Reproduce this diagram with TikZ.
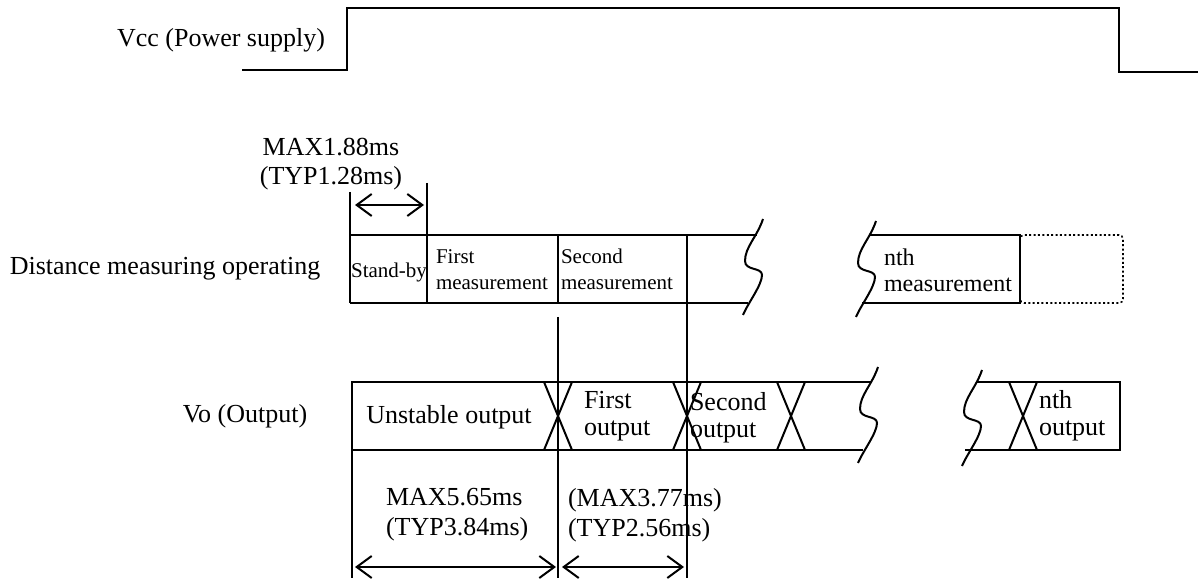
\documentclass[tikz,border=0pt]{standalone}
\usepackage{fontspec}
\setmainfont{Liberation Serif}
\usetikzlibrary{arrows.meta}

% break mark of a cut time axis
\newcommand{\cutmark}[2]{\draw (#1,#2) .. controls +(-6,18) and +(0,-14) .. ++(-18,42) .. controls +(0,10) and +(0,-8) .. ++(17,14) .. controls +(0,10) and +(5,-12) .. ++(-19,40);}

\begin{document}
\begin{tikzpicture}[x=0.5pt, y=-0.5pt, line width=1pt,
	txt/.style={inner sep=0pt, align=left, font=\fontsize{13}{13.5}\selectfont},
	dimtxt/.style={inner sep=0pt, align=left, font=\fontsize{13}{15}\selectfont},
	small/.style={inner sep=0pt, align=left, font=\fontsize{10.5}{13}\selectfont},
	nthsmall/.style={inner sep=0pt, align=left, font=\fontsize{12}{13}\selectfont},
	dimarrow/.style={{Straight Barb[length=7.5pt,width=11pt]}-{Straight Barb[length=7.5pt,width=11pt]}}]
	\useasboundingbox (0,0) rectangle (1198,582);
	% signal names
	\node [txt] (vcc) at (221,40) {Vcc (Power supply)};
	\node [txt] (dist) at (165,269) {Distance measuring operating};
	\node [txt] (vo) at (245,416) {Vo (Output)};
	% Vcc
	\draw (242,70) -- (347,70) -- (347,8) -- (1119,8) -- (1119,72) -- (1198,72);
	% stand-by time
	\node [txt] (max1) at (331,147) {MAX1.88ms};
	\node [txt] (typ1) at (331,178) {(TYP1.28ms)};
	\coordinate (sbL) at (355,205);
	\coordinate (sbR) at (424,205);
	\draw [dimarrow] (sbL) -- (sbR);
	% measuring row
	\draw (350,192) -- (350,303);
	\draw (427,183) -- (427,303);
	\draw (350,235) -- (757,235);
	\draw (350,303) -- (748,303);
	\draw (558,235) -- (558,303);
	\draw (687,235) -- (687,578);
	\draw (558,317) -- (558,578);
	\cutmark{763}{219}
	\cutmark{876}{221}
	\draw (870,235) -- (1020,235) -- (1020,303) -- (862,303);
	\draw [line width=0.8pt, dash pattern=on 1pt off 1.2pt, rounded corners=2pt] (1020,235) rectangle (1123,303);
	\node [small] (standby) at (389,272) {Stand-by};
	\node [small, anchor=west] (firstm) at (435,270) {First\\measurement};
	\node [small, anchor=west] (secondm) at (560,269) {Second\\measurement};
	\node [nthsmall, anchor=west] (nthm) at (883,270) {nth\\measurement};
	% output row
	\draw (872,382) -- (352,382) -- (352,450) -- (863,450);
	\draw (977,382) -- (1120,382) -- (1120,450) -- (965,450);
	\foreach \c in {558,687,791,1023}
		\draw (\c-14,382) -- (\c+14,450) (\c+14,382) -- (\c-14,450);
	\cutmark{878}{367}
	\cutmark{982}{370}
	\node [txt] (unst) at (449,417) {Unstable output};
	\node [txt, anchor=west] (firsto) at (583,416) {First\\output};
	\node [txt, anchor=west] (secondo) at (689,418) {Second\\output};
	\node [txt, anchor=west] (ntho) at (1038,416) {nth\\output};
	% output timing
	\draw [line width=0.6pt] (352,450) -- (352,578);
	\node [dimtxt, anchor=west] (max2) at (385,515) {MAX5.65ms\\(TYP3.84ms)};
	\node [dimtxt, anchor=west] (max3) at (567,515) {(MAX3.77ms)\\(TYP2.56ms)};
	\coordinate (unL) at (355,567);
	\coordinate (unR) at (556,567);
	\coordinate (fsL) at (562,567);
	\coordinate (fsR) at (684,567);
	\draw [dimarrow] (unL) -- (unR);
	\draw [dimarrow] (fsL) -- (fsR);
\end{tikzpicture}
\end{document}
